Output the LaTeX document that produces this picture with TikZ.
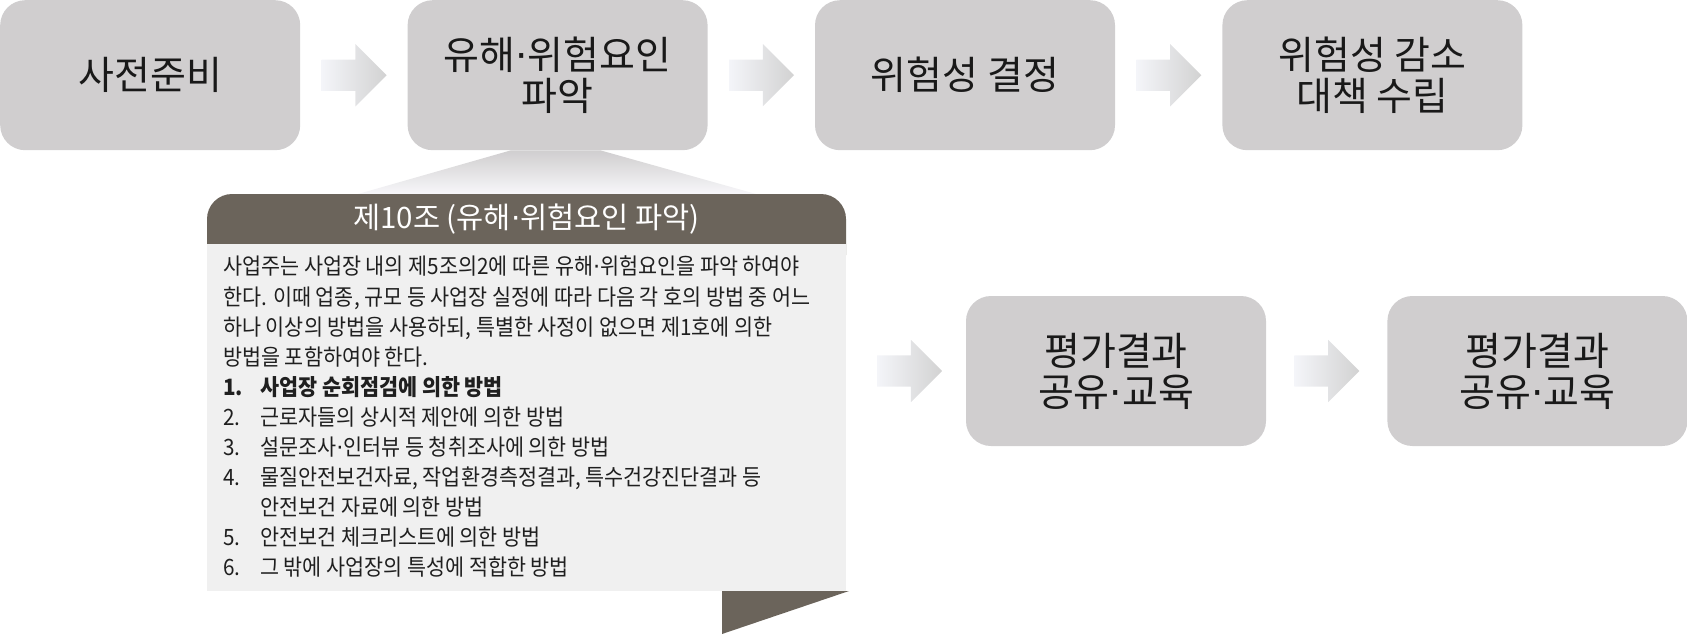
\documentclass[tikz,border=0pt]{standalone}
\usepackage{fontspec}
\setmainfont{Noto Sans CJK KR}
\newfontfamily\lawfont{Noto Sans CJK KR}[FakeStretch=0.92]
\newfontfamily\dotfont{DejaVu Sans}
\usetikzlibrary{positioning}
\usetikzlibrary{calc}
\usetikzlibrary{shapes.arrows}

\definecolor{stagegray}{HTML}{D0CECF}
\definecolor{flowlight}{HTML}{F4F5F9}
\definecolor{flowdark}{HTML}{D2D2D2}
\definecolor{wedgelight}{HTML}{F7F7FA}
\definecolor{lawdark}{HTML}{6B645B}
\definecolor{lawlight}{HTML}{F0F0F0}

% narrow middle dot
\newcommand{\hdot}{{\dotfont ·}}

\begin{document}
\begin{tikzpicture}[
x=1pt,y=-1pt,
stage/.style={
	% The shape:
	rectangle,rounded corners=25pt,
	% The size:
	minimum width=300pt,minimum height=150pt,
	% The filling:
	fill=stagegray,draw=none,
	% Font
	font=\fontsize{39}{41}\selectfont,align=center,text=black!90},
flow/.style={
	% The shape:
	single arrow,single arrow head extend=15.5pt,anchor=tail,
	% The size:
	minimum height=65pt,inner xsep=0pt,inner ysep=15.5pt,
	% The filling:
	left color=flowlight,right color=flowdark,draw=none},
]
\useasboundingbox (0,0) rectangle (1687,635);

\node (prep) [stage,anchor=north west] at (0,0) {사전준비};
\node (hazard) [stage,right=107pt of prep] {유해\hdot 위험요인\\파악};
\node (risk) [stage,right=107pt of hazard] {위험성 결정};
\node (reduce) [stage,right=107pt of risk] {위험성 감소\\대책 수립};

\node (sharing) [stage] at (1116,371) {평가결과\\공유\hdot 교육};
\node (sharing2) [stage,right=121pt of sharing] {평가결과\\공유\hdot 교육};

% callout below the second stage
\shade[top color=stagegray,bottom color=wedgelight]
	($(hazard.south)+(-47,0)$) -- ($(hazard.south)+(43,0)$) -- (756,194) -- (358,194) -- cycle;
\fill[lawdark,rounded corners=25pt] (207,194) rectangle (846,280);
\fill[lawlight] (207,244) rectangle (846,591);
\fill[lawdark] (722,591) -- (849,591) -- (722,634) -- cycle;
\coordinate (lawedge) at (853,371);

\node (lawtitle) [font=\fontsize{29.5}{32}\selectfont,text=white] at (526.5,219) {제10조 (유해\hdot 위험요인 파악)};
\node (lawtext) [anchor=north west,inner sep=0pt,align=left,text=black!88,
	font=\lawfont\fontsize{22.5}{30.1}\selectfont] at (223,256) {%
사업주는 사업장 내의 제5조의2에 따른 유해\hdot 위험요인을 파악 하여야\\
한다. 이때 업종, 규모 등 사업장 실정에 따라 다음 각 호의 방법 중 어느\\
하나 이상의 방법을 사용하되, 특별한 사정이 없으면 제1호에 의한\\
방법을 포함하여야 한다.\\
{\bfseries\makebox[37pt][l]{1.}사업장 순회점검에 의한 방법}\\
\makebox[37pt][l]{2.}근로자들의 상시적 제안에 의한 방법\\
\makebox[37pt][l]{3.}설문조사\hdot 인터뷰 등 청취조사에 의한 방법\\
\makebox[37pt][l]{4.}물질안전보건자료, 작업환경측정결과, 특수건강진단결과 등\\
\hspace*{37pt}안전보건 자료에 의한 방법\\
\makebox[37pt][l]{5.}안전보건 체크리스트에 의한 방법\\
\makebox[37pt][l]{6.}그 밖에 사업장의 특성에 적합한 방법};

% block arrows between the stages
\foreach \from/\to in {prep/hazard,hazard/risk,risk/reduce,sharing/sharing2}
	\node (flow-\from) [flow] at ($(\from.east)!0.5!(\to.west)+(-32.5,0)$) {};
\node (flow-law) [flow] at ($(lawedge)!0.5!(sharing.west)+(-32.5,0)$) {};

\end{tikzpicture}
\end{document}
